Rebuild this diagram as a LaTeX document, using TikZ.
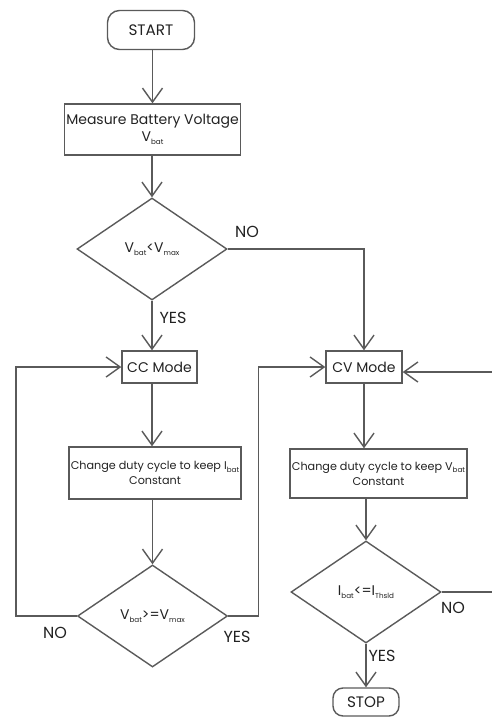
\documentclass[tikz,border=0pt]{standalone}
\usepackage{fontspec}
\setmainfont{Poppins}
\usepackage{xcolor}
\usepackage{tikz}
\usetikzlibrary{positioning,shapes.geometric,arrows.meta}
\definecolor{linegray}{HTML}{5A5A5A}
\definecolor{txtgray}{HTML}{222222}
\newcommand{\lowsub}[1]{\raisebox{-0.45ex}{\fontsize{3.6}{4}\selectfont #1}}

\begin{document}
\begin{tikzpicture}[
						x=0.5pt, y=-0.5pt,
						font=\fontsize{7}{8.5}\selectfont,
						term/.style={              % Start / Stop
							draw=linegray, line width=0.7pt,
							rounded corners=6pt,
							minimum width=43.5pt, minimum height=19.5pt,
							inner sep=1pt, text=txtgray,
							font=\fontsize{7.6}{9}\selectfont
						},
						proc/.style={              % Hop xu ly
							draw=linegray, line width=0.7pt,
							align=center, inner sep=1pt, text=txtgray
						},
						small/.style={font=\fontsize{5.6}{7.5}\selectfont},
						dec/.style={               % Hinh thoi
							diamond, draw=linegray, line width=0.7pt,
							minimum width=75pt, minimum height=51pt,
							inner sep=0pt, text=txtgray
						},
						arr/.style={
							-{Straight Barb[length=7pt,width=10pt]},
							draw=linegray, line width=0.7pt
						},
						lbl/.style={text=txtgray, font=\fontsize{8}{9}\selectfont}
						]
						\clip (0,0) rectangle (492,718);
						
						% --- COT TRAI: Start -> do dien ap -> so sanh ---
						\node[term] (start) at (151,30) {START};
						\node[proc, minimum width=85.5pt, minimum height=25.5pt] (measure) at (152.5,129.5) {Measure Battery Voltage\\V\lowsub{bat}};
						\node[dec] (d1) at (152,249) {V\lowsub{bat}<V\lowsub{max}};
						
						% --- CC Mode ---
						\node[proc, minimum width=37.5pt, minimum height=16pt] (cc) at (159.5,367) {CC Mode};
						\node[proc, small, minimum width=84pt, minimum height=26pt] (ccbox) at (155,473) {Change duty cycle to keep I\lowsub{bat}\\Constant};
						\node[dec] (d2) at (152.5,616) {V\lowsub{bat}>=V\lowsub{max}};
						
						% --- CV Mode ---
						\node[proc, minimum width=38pt, minimum height=16pt] (cv) at (364,367) {CV Mode};
						\node[proc, small, minimum width=84.5pt, minimum height=24.5pt] (cvbox) at (378.5,473.5) {Change duty cycle to keep V\lowsub{bat}\\Constant};
						\node[dec] (d3) at (366,592) {I\lowsub{bat}<=I\lowsub{Thsld}};
						\node[term, minimum width=33pt, minimum height=14pt, rounded corners=5pt] (stop) at (366,702) {STOP};
						
						% --- Mui ten ---
						\draw[arr] (start.south -| measure) -- (measure.north);
						\draw[arr] (measure.south -| d1) -- (d1.north);
						\draw[arr] (d1.south) -- (d1.south |- cc.north);
						\draw[arr] (d1.east) -| (cv.north);
						\draw[arr] (cc.south -| d1) -- (d1 |- ccbox.north);
						\draw[arr] (ccbox.south -| d2) -- (d2.north);
						\draw[arr] (d2.west) -- ++(-61,0) |- (cc.west);
						\draw[arr] (d2.east) -- ++(30,0) |- (cv.west);
						\draw[arr] (cv.south) -- (cv.south |- cvbox.north);
						\draw[arr] (cvbox.south -| d3) -- (d3.north);
						\draw[arr] (d3.south) -- (stop.north);
						\draw[arr] (d3.east) -- ++(140,0) |- ([yshift=-2.5pt]cv.east);
						
						% --- Nhan YES / NO ---
						\node[lbl] (no1) at (247,232) {NO};
						\node[lbl] (yes1) at (173,318) {YES};
						\node[lbl] (no2) at (55,633) {NO};
						\node[lbl] (yes2) at (237,637) {YES};
						\node[lbl] (no3) at (453,608) {NO};
						\node[lbl] (yes3) at (382,656) {YES};
						
					\end{tikzpicture}
\end{document}
